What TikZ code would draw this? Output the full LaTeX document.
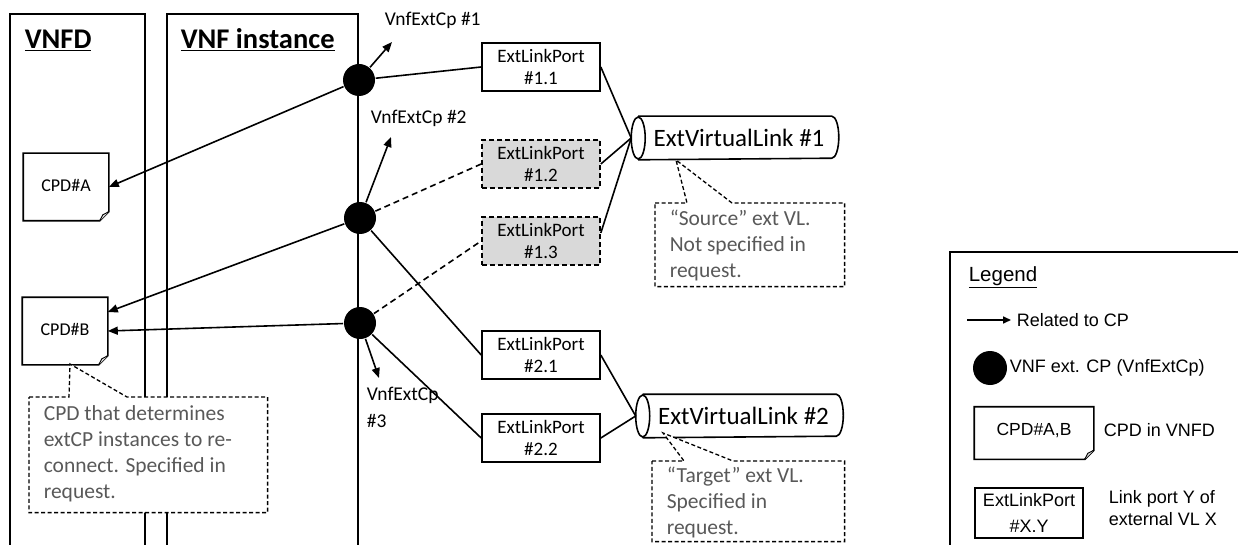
\documentclass[tikz,border=0pt]{standalone}
\usepackage{fontspec}
\setmainfont{Carlito}
\newfontfamily\legfont{Liberation Sans}
\usetikzlibrary{arrows.meta,calc}
\definecolor{calltext}{RGB}{89,89,89}
\definecolor{portgrey}{RGB}{217,217,217}
\newcommand\dogear[1]{%
  \draw (#1.north west) -- (#1.north east) -- ([yshift=9pt]#1.south east) -- ([xshift=-9pt]#1.south east) -- (#1.south west) -- cycle;
  \draw[fill=portgrey,line width=0.9pt] ([yshift=9pt]#1.south east) -- ([xshift=-6pt,yshift=6pt]#1.south east) -- ([xshift=-9pt]#1.south east);
}
\newcommand\cylout[1]{%
  \draw ([xshift=7pt]#1.north west) -- ([xshift=-7pt]#1.north east) arc (90:-90:7pt and 21pt) -- ([xshift=7pt]#1.south west);
  \draw ([xshift=7pt]#1.west) ellipse [x radius=7pt, y radius=21pt];
}
\begin{document}
\begin{tikzpicture}[x=1pt,y=-1pt,line width=1.6pt,
  port/.style={draw,fill=white,minimum width=118pt,minimum height=48pt,inner sep=0pt,align=center,font=\fontsize{19}{22}\selectfont},
  portgrey/.style={port,fill=portgrey,dash pattern=on 5pt off 3pt},
  cp/.style={circle,fill=black,minimum size=32pt,inner sep=0pt},
  doc/.style={minimum width=84pt,minimum height=66pt,inner sep=0pt,font=\fontsize{18}{22}\selectfont},
  vl/.style={minimum width=206pt,minimum height=42pt,inner sep=0pt,font=\fontsize{25}{30}\selectfont},
  call/.style={align=left,text=calltext,inner xsep=14pt,inner ysep=0pt,anchor=north west,font=\fontsize{21.5}{26}\selectfont},
  callline/.style={dash pattern=on 4pt off 2.5pt,line width=1.3pt,fill=white},
  rel/.style={-{Triangle[length=10pt,width=8pt]}},
  lab/.style={font=\fontsize{19.5}{27}\selectfont,inner sep=0pt,align=left},
  title/.style={font=\fontsize{28.5}{30}\selectfont\bfseries,inner sep=0pt},
  leg/.style={font=\legfont\fontsize{18}{22}\selectfont,inner sep=0pt,align=left}]
\useasboundingbox[fill=white] (0,0) rectangle (1238,545);

% frames
\draw (10,545) -- (10,14) -- (145,14) -- (145,545);
\draw (167,545) -- (167,14) -- (358,14) -- (358,545);
\node[title,anchor=base west] (tvnfd) at (24,49) {\underline{VNFD}};
\node[title,anchor=base west] (tvnfi) at (180,49) {\underline{VNF instance}};

% legend frame
\draw (950,545) -- (950,252) -- (1240,252);

% connection points
\node[cp] (c1) at (359,80) {};
\node[cp] (c2) at (360,218) {};
\node[cp] (c3) at (360,323) {};

% CPDs
\node[doc] (cpdA) at (66,187) {\raisebox{4pt}{CPD\#A}};
\dogear{cpdA}
\node[doc] (cpdB) at (65,331) {\raisebox{4pt}{CPD\#B}};
\dogear{cpdB}

% ports
\node[port] (p11) at (541,67) {ExtLinkPort\\\#1.1};
\node[portgrey] (p12) at (541,164) {ExtLinkPort\\\#1.2};
\node[portgrey] (p13) at (541,241) {ExtLinkPort\\\#1.3};
\node[port] (p21) at (541,355) {ExtLinkPort\\\#2.1};
\node[port] (p22) at (541,438) {ExtLinkPort\\\#2.2};

% virtual links
\node[vl] (vl1) at (735,138) {\hspace{8pt}ExtVirtualLink \#1};
\cylout{vl1}
\node[vl] (vl2) at (739.5,416) {\hspace{8pt}ExtVirtualLink \#2};
\cylout{vl2}

% VnfExtCp labels
\node[lab,anchor=west] (l1) at (384,20) {VnfExtCp \#1};
\node[lab,anchor=west] (l2) at (370,118) {VnfExtCp \#2};
\node[lab,anchor=north west] (l3) at (366,386) {VnfExtCp\\\#3};
\coordinate (t1) at (392,42);
\coordinate (t2) at (391,137);
\coordinate (t3) at (379,378);
\draw[rel] (c1) -- (t1);
\draw[rel] (c2) -- (t2);
\draw[rel] (c3) -- (t3);

% related-to arrows
\draw[rel] (c1) -- (cpdA.east);
\draw[rel] (c2) -- ([yshift=19pt]cpdB.east);
\draw[rel] (c3) -- (cpdB.east);

% CP to port links
\draw (c1) -- (p11.west);
\draw[dash pattern=on 6pt off 4pt] (c2) -- (p12.west);
\draw[dash pattern=on 6pt off 4pt] (c3) -- (p13.west);
\draw (c2) -- (p21.west);
\draw (c3) -- (p22.west);

% port to VL links
\draw (p11.east) -- (vl1.west);
\draw (p12.east) -- (vl1.west);
\draw ([yshift=8pt]p13.east) -- (vl1.west);
\draw (p21.east) -- (vl2.west);
\draw (p22.east) -- (vl2.west);

% callouts
\node[call,minimum width=237pt,minimum height=114pt] (kB) at (29,397) {};
\draw[callline] (kB.north west) -- (69,397) -- (70,364) -- (127,397) -- (kB.north east) -- (kB.south east) -- (kB.south west) -- cycle;
\node[call,anchor=west] (kBt) at (29,454) {CPD that determines\\extCP instances to re-\\connect. Specified in\\request.};

\node[call,minimum width=188pt,minimum height=82pt] (kS) at (655,203) {};
\draw[callline] (kS.north west) -- (687,203) -- (676,160) -- (732,203) -- (kS.north east) -- (kS.south east) -- (kS.south west) -- cycle;
\node[call,anchor=west] (kSt) at (655,245) {“Source” ext VL.\\Not specified in\\request.};

\node[call,minimum width=191pt,minimum height=79pt] (kT) at (652,461) {};
\draw[callline] (kT.north west) -- (684,461) -- (663,433) -- (733,461) -- (kT.north east) -- (kT.south east) -- (kT.south west) -- cycle;
\node[call,anchor=west] (kTt) at (652,502) {“Target” ext VL.\\Specified in\\request.};

% legend
\node[leg,anchor=west,font=\legfont\fontsize{20.5}{24}\selectfont] (lgt) at (968,277) {\underline{Legend}};
\coordinate (lga) at (967,320);
\node[leg,anchor=west] (lgr) at (1016,320) {Related to CP};
\draw[-{Triangle[length=8pt,width=7pt]}] (lga) -- ([xshift=-5pt]lgr.west);
\node[cp,minimum size=34pt] (lgc) at (990,368) {};
\node[leg,anchor=west] (lgct) at (1009,368) {VNF ext. CP (VnfExtCp)};
\node[doc,minimum width=118pt,minimum height=51pt,font=\legfont\fontsize{17.5}{22}\selectfont] (lgd) at (1034,433) {\raisebox{8pt}{CPD\#A,B}};
\dogear{lgd}
\node[leg,anchor=west] (lgdt) at (1103,430) {CPD in VNFD};
\node[port,minimum width=108pt,minimum height=50pt,font=\legfont\fontsize{18}{26}\selectfont] (lgp) at (1029,513) {ExtLinkPort\\\#X.Y};
\node[leg,anchor=west] (lgpt) at (1108,508) {Link port Y of\\external VL X};
\end{tikzpicture}
\end{document}
